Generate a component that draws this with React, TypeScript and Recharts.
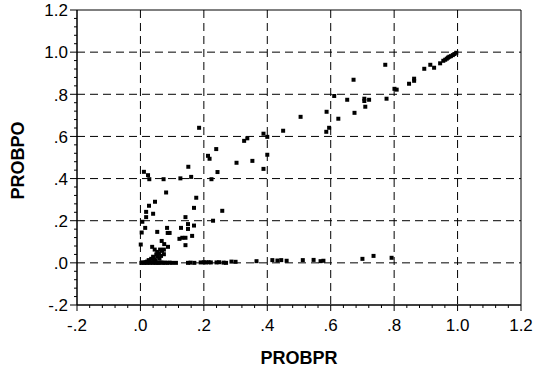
import React from "react";
import { ScatterChart, Scatter, XAxis, YAxis, ZAxis, CartesianGrid, ReferenceArea, Label } from "recharts";

// Major tick values and labels
const xMajorTicks = [-0.2, 0, 0.2, 0.4, 0.6, 0.8, 1.0, 1.2];
const xMajorLabels = ["-.2", ".0", ".2", ".4", ".6", ".8", "1.0", "1.2"];
const yMajorTicks = [-0.2, 0, 0.2, 0.4, 0.6, 0.8, 1.0, 1.2];
const yMajorLabels = ["-.2", ".0", ".2", ".4", ".6", ".8", "1.0", "1.2"];
const minorPerMajor = 5;

// Points: [PROBPR, PROBPO]
const diagonalPoints: [number, number][] = [
  [0.450, 0.627], [0.505, 0.693], [0.586, 0.622], [0.595, 0.641], [0.587, 0.717], [0.611, 0.792],
  [0.624, 0.684], [0.652, 0.774], [0.672, 0.869], [0.675, 0.712], [0.706, 0.779], [0.706, 0.768],
  [0.709, 0.741], [0.721, 0.774], [0.772, 0.940], [0.776, 0.779], [0.801, 0.826], [0.808, 0.822],
  [0.847, 0.850], [0.863, 0.864], [0.863, 0.874], [0.895, 0.921], [0.914, 0.940], [0.926, 0.926],
  [0.945, 0.947], [0.955, 0.959], [0.961, 0.964], [0.966, 0.969], [0.970, 0.974], [0.974, 0.978],
  [0.979, 0.981], [0.985, 0.986], [0.990, 0.991], [0.996, 0.997],
];

const midPoints: [number, number][] = [
  [0.011, 0.432], [0.024, 0.416], [0.028, 0.397], [0.073, 0.397], [0.126, 0.401], [0.151, 0.456],
  [0.160, 0.408], [0.185, 0.641], [0.213, 0.508], [0.218, 0.494], [0.239, 0.540], [0.243, 0.431],
  [0.224, 0.397], [0.303, 0.475], [0.327, 0.579], [0.337, 0.591], [0.353, 0.484], [0.388, 0.613],
  [0.400, 0.598], [0.400, 0.513], [0.388, 0.446],
];

const lowPoints: [number, number][] = [
  [0.081, 0.334], [0.046, 0.290], [0.027, 0.271], [0.018, 0.242], [0.018, 0.217], [0.040, 0.233],
  [0.006, 0.195], [0.015, 0.166], [0.004, 0.144], [0.053, 0.147], [0.084, 0.166], [0.086, 0.142],
  [0.092, 0.142], [0.001, 0.087], [0.037, 0.076], [0.067, 0.104], [0.075, 0.089], [0.087, 0.076],
  [0.176, 0.309], [0.169, 0.261], [0.142, 0.217], [0.128, 0.166], [0.150, 0.184], [0.150, 0.161],
  [0.169, 0.177], [0.163, 0.128], [0.123, 0.114], [0.132, 0.119], [0.142, 0.119], [0.142, 0.084],
  [0.229, 0.200], [0.258, 0.247],
];

const clusterPoints: [number, number][] = [
  [0.045, 0.063], [0.053, 0.052], [0.062, 0.063], [0.068, 0.057], [0.074, 0.063], [0.050, 0.040],
  [0.059, 0.045], [0.065, 0.033], [0.074, 0.041], [0.040, 0.029], [0.053, 0.029], [0.034, 0.019],
  [0.044, 0.016], [0.026, 0.013], [0.021, 0.006], [0.060, 0.020], [0.048, 0.010],
];

const zeroLinePoints: [number, number][] = [
  [0.003, 0.0], [0.008, 0.002], [0.012, 0.0], [0.016, 0.003], [0.020, 0.0], [0.025, 0.002],
  [0.030, 0.0], [0.035, 0.003], [0.040, 0.0], [0.045, 0.002], [0.050, 0.0], [0.055, 0.001],
  [0.060, 0.0], [0.066, 0.002], [0.072, 0.0], [0.078, 0.001], [0.085, 0.0], [0.092, 0.001],
  [0.100, 0.0], [0.112, 0.0], [0.150, 0.0], [0.158, 0.001], [0.170, 0.0], [0.190, 0.002],
  [0.200, 0.003], [0.207, 0.002], [0.215, 0.003], [0.222, 0.002], [0.240, 0.002], [0.248, 0.003],
  [0.262, 0.001], [0.270, 0.0], [0.287, 0.006], [0.300, 0.005], [0.366, 0.008], [0.416, 0.013],
  [0.432, 0.011], [0.444, 0.013], [0.461, 0.010], [0.512, 0.013], [0.546, 0.014], [0.568, 0.008],
  [0.577, 0.010], [0.700, 0.019], [0.735, 0.033], [0.792, 0.024],
];

const allPoints = [...zeroLinePoints, ...clusterPoints, ...lowPoints, ...midPoints, ...diagonalPoints].map(
  ([x, y]) => ({ x, y })
);

function withMinors(majors: number[]): number[] {
  const out: number[] = [];
  for (let i = 0; i < majors.length; i++) {
    out.push(majors[i]);
    if (i < majors.length - 1) {
      const step = (majors[i + 1] - majors[i]) / minorPerMajor;
      for (let k = 1; k < minorPerMajor; k++) out.push(Math.round((majors[i] + step * k) * 1000) / 1000);
    }
  }
  return out;
}

const xAllTicks = withMinors(xMajorTicks);
const yAllTicks = withMinors(yMajorTicks);

const FONT = "'Liberation Sans', Arial, sans-serif";

function majorIndex(v: number, majors: number[]): number {
  return majors.findIndex((m) => Math.abs(m - v) < 1e-6);
}

const XTick = (props: any) => {
  const { x, y, payload } = props;
  const idx = majorIndex(payload.value, xMajorTicks);
  const major = idx >= 0;
  return (
    <g>
      <line x1={x} x2={x} y1={y} y2={y + (major ? 6 : 3)} stroke="#000" strokeWidth={1} />
      {major && (
        <text x={x} y={y + 26} textAnchor="middle" fontSize={17} fontFamily={FONT} fill="#000">
          {xMajorLabels[idx]}
        </text>
      )}
    </g>
  );
};

const YTick = (props: any) => {
  const { x, y, payload } = props;
  const idx = majorIndex(payload.value, yMajorTicks);
  const major = idx >= 0;
  return (
    <g>
      <line x1={x - (major ? 7 : 3)} x2={x} y1={y} y2={y} stroke="#000" strokeWidth={1} />
      {major && (
        <text x={x - 9} y={y + 6.3} textAnchor="end" fontSize={17} fontFamily={FONT} fill="#000">
          {yMajorLabels[idx]}
        </text>
      )}
    </g>
  );
};

export default function App() {
  return (
    <div style={{ position: "absolute", left: 0, top: 0, background: "#fff" }}>
      <ScatterChart width={537} height={374} margin={{ top: 10, right: 16, bottom: 0, left: 0 }}>
        <CartesianGrid
          stroke="#000"
          strokeDasharray="8 5"
          horizontalValues={yMajorTicks.slice(1, -1)}
          verticalValues={xMajorTicks.slice(1, -1)}
        />
        <XAxis
          type="number"
          dataKey="x"
          domain={[-0.2, 1.2]}
          ticks={xAllTicks}
          interval={0}
          allowDataOverflow
          height={69}
          tickSize={0}
          tickMargin={0}
          tickLine={false}
          tick={<XTick />}
          axisLine={{ stroke: "#000" }}
        >
          <Label
            content={(p: any) => {
              const vb = p.viewBox;
              return (
                <text x={vb.x + vb.width / 2} y={364} textAnchor="middle" fontSize={18} fontWeight="bold" fontFamily={FONT} fill="#000">
                  PROBPR
                </text>
              );
            }}
          />
        </XAxis>
        <YAxis
          type="number"
          dataKey="y"
          domain={[-0.2, 1.2]}
          ticks={yAllTicks}
          interval={0}
          allowDataOverflow
          width={77}
          tickSize={0}
          tickMargin={0}
          tickLine={false}
          tick={<YTick />}
          axisLine={{ stroke: "#000" }}
        >
          <Label
            content={(p: any) => {
              const vb = p.viewBox;
              const cy = vb.y + vb.height / 2 + 3;
              return (
                <text x={24} y={cy} transform={`rotate(-90, 24, ${cy})`} textAnchor="middle" fontSize={18} fontWeight="bold" fontFamily={FONT} fill="#000">
                  PROBPO
                </text>
              );
            }}
          />
        </YAxis>
        <ZAxis range={[16, 16]} />
        <ReferenceArea x1={-0.2} x2={1.2} y1={-0.2} y2={1.2} fill="none" stroke="#000" strokeWidth={1} ifOverflow="extendDomain" />
        <Scatter data={allPoints} fill="#000" shape="square" isAnimationActive={false} />
      </ScatterChart>
    </div>
  );
}
